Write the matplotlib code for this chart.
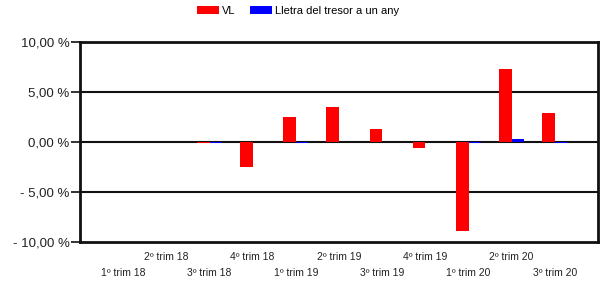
import matplotlib
matplotlib.use("Agg")
import matplotlib.pyplot as plt
import numpy as np
from matplotlib.patches import Patch

plt.rcParams['font.family'] = ['Liberation Sans', 'DejaVu Sans']

categories = ["1º trim 18", "2º trim 18", "3º trim 18", "4º trim 18", "1º trim 19",
              "2º trim 19", "3º trim 19", "4º trim 19", "1º trim 20", "2º trim 20", "3º trim 20"]
vl = [0.0, 0.0, -0.05, -2.5, 2.5, 3.47, 1.35, -0.57, -8.85, 7.35, 2.9]
lletra = [0.0, 0.0, -0.05, 0.05, -0.05, 0.03, 0.03, 0.05, -0.08, 0.27, -0.05]
yticks = [-10, -5, 0, 5, 10]
ytick_labels = ["- 10,00 %", "- 5,00 %", "0,00 %", "5,00 %", "10,00 %"]

fig = plt.figure(figsize=(6.0, 2.81), dpi=100)
ax = fig.add_axes([80/600, 1-242/281, 518/600, 200/281])

x = np.arange(len(categories))
w = 0.29
ax.bar(x - w/2, vl, width=w, color="#FF0000", linewidth=0, zorder=3)
ax.bar(x + w/2, lletra, width=w, color="#0000FF", linewidth=0, zorder=3)

ax.set_xlim(-1, 11)
ax.set_ylim(-10, 10)
ax.set_yticks(yticks)
ax.set_yticklabels(ytick_labels, fontsize=9.5, color="#222222")
for yv in yticks[1:-1]:
    ax.axhline(yv, color="#111111", linewidth=1.5, zorder=2)

ax.set_xticks(x)
ax.set_xticklabels(categories, fontsize=7.5, color="#222222")
for i, t in enumerate(ax.xaxis.get_major_ticks()):
    t.set_pad(18.5 if i % 2 == 0 else 7)
ax.tick_params(axis='x', length=0)
ax.tick_params(axis='y', length=6.5, width=1.2, color="#111111", pad=1)

for s in ax.spines.values():
    s.set_linewidth(2)
    s.set_color("#111111")

handles = [Patch(facecolor="#FF0000", edgecolor="none", label="VL"),
           Patch(facecolor="#0000FF", edgecolor="none", label="Lletra del tresor a un any")]
fig.legend(handles=handles, loc="center", bbox_to_anchor=(298/600, 1-11/281), ncol=2,
           frameon=False, fontsize=8, handlelength=2.0, handleheight=0.72,
           columnspacing=1.25, handletextpad=0.3)

fig.savefig("out.png", dpi=100)
